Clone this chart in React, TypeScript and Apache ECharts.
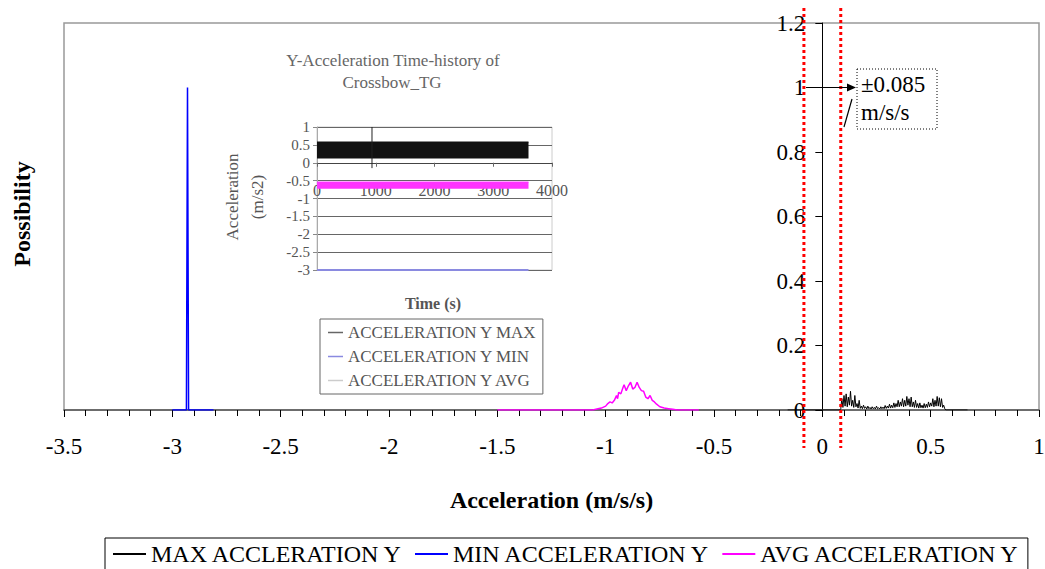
import React, { useEffect, useRef } from "react";
import * as echarts from "echarts";

const FONT = "Liberation Serif";

// Main chart axes
const xMin = -3.5;
const xMax = 1;
const xStep = 0.5;
const yMin = 0;
const yMax = 1.2;
const yStep = 0.2;

// MIN ACCELERATION Y histogram
const minAccX = [-3.0, -2.935, -2.93, -2.925, -2.81];
const minAccY = [0, 0, 1.0, 0, 0];

// AVG ACCELERATION Y histogram
const avgAccX = [
  -1.5, -1.06, -1.04, -1.02, -1.0, -0.99, -0.98, -0.97, -0.96, -0.95, -0.945, -0.94, -0.93, -0.92, -0.915,
  -0.905, -0.895, -0.885, -0.875, -0.865, -0.855, -0.845, -0.835, -0.825, -0.815, -0.805, -0.795, -0.785,
  -0.775, -0.765, -0.75, -0.73, -0.71, -0.69, -0.67, -0.57,
];
const avgAccY = [
  0, 0, 0.003, 0.006, 0.012, 0.02, 0.025, 0.022, 0.03, 0.045, 0.035, 0.055, 0.05, 0.07, 0.078,
  0.06, 0.075, 0.086, 0.065, 0.07, 0.086, 0.07, 0.06, 0.058, 0.04, 0.035, 0.045, 0.03,
  0.025, 0.018, 0.01, 0.006, 0.004, 0.002, 0, 0,
];

// MAX ACCELERATION Y histogram
const maxAccX = [
  -0.16, 0.08,
  0.085, 0.09, 0.095, 0.1, 0.105, 0.11, 0.115, 0.12, 0.125, 0.13,
  0.135, 0.14, 0.145, 0.15, 0.155, 0.16, 0.165, 0.17, 0.175, 0.18,
  0.185, 0.19, 0.195, 0.2, 0.205, 0.21, 0.215, 0.22, 0.225, 0.23,
  0.235, 0.24, 0.245, 0.25, 0.255, 0.26, 0.265, 0.27, 0.275, 0.28,
  0.285, 0.29, 0.295, 0.3, 0.305, 0.31, 0.315, 0.32, 0.325, 0.33,
  0.335, 0.34, 0.345, 0.35, 0.355, 0.36, 0.365, 0.37, 0.375, 0.38,
  0.385, 0.39, 0.395, 0.4, 0.405, 0.41, 0.415, 0.42, 0.425, 0.43,
  0.435, 0.44, 0.445, 0.45, 0.455, 0.46, 0.465, 0.47, 0.475, 0.48,
  0.485, 0.49, 0.495, 0.5, 0.505, 0.51, 0.515, 0.52, 0.525, 0.53,
  0.535, 0.54, 0.545, 0.55, 0.555, 0.56, 0.565, 0.57,
  0.67,
];
const maxAccY = [
  0, 0,
  0.004, 0.035, 0.008, 0.045, 0.012, 0.05, 0.01, 0.04, 0.015, 0.058,
  0.012, 0.03, 0.008, 0.045, 0.01, 0.02, 0.006, 0.03, 0.005, 0.012,
  0.004, 0.015, 0.005, 0.01, 0.003, 0.012, 0.004, 0.008, 0.003, 0.01,
  0.004, 0.008, 0.003, 0.012, 0.004, 0.007, 0.003, 0.01, 0.004, 0.009,
  0.004, 0.014, 0.005, 0.012, 0.006, 0.018, 0.006, 0.015, 0.007, 0.022,
  0.008, 0.02, 0.01, 0.03, 0.01, 0.025, 0.012, 0.035, 0.01, 0.03,
  0.012, 0.042, 0.015, 0.035, 0.01, 0.04, 0.01, 0.025, 0.008, 0.03,
  0.008, 0.02, 0.006, 0.022, 0.007, 0.015, 0.006, 0.02, 0.007, 0.018,
  0.008, 0.025, 0.01, 0.022, 0.012, 0.035, 0.01, 0.03, 0.012, 0.042,
  0.012, 0.038, 0.01, 0.035, 0.008, 0.015, 0.004, 0,
  0,
];

// Threshold annotation
const threshold = 0.085;

// Inset chart (time history)
const insetTimeMin = 0;
const insetTimeMax = 4000;
const insetTimeStep = 1000;
const insetAccMin = -3;
const insetAccMax = 1;
const insetAccStep = 0.5;
const insetTime = [0, 3600];
const insetMaxLow = 0.12;
const insetMaxHigh = [0.58, 0.58];
const insetAvgLow = -0.73;
const insetAvgHigh = [-0.54, -0.54];
const insetMin = [-3, -3];
const insetSpikeTime = [936, 936];
const insetSpikeValue = [-0.15, 1.0];

const zip = (a: number[], b: number[]) => a.map((v, i) => [v, b[i]]);

const legendNames = ["MAX ACCLERATION Y", "MIN ACCELERATION Y", "AVG ACCELERATION Y"];
const insetLegendNames = ["ACCELERATION Y MAX", "ACCELERATION Y MIN", "ACCELERATION Y AVG"];

export default function App() {
  const ref = useRef<HTMLDivElement>(null);
  useEffect(() => {
    document.body.style.margin = "0";
    const chart = echarts.init(ref.current!, null, { renderer: "svg" });
    const option: any = {
      animation: false,
      backgroundColor: "#fff",
      grid: [
        {
          left: 64,
          right: 6,
          top: 23,
          bottom: 159,
          show: true,
          borderColor: "#999",
          borderWidth: 1.5,
          containLabel: false,
          outerBoundsMode: "none",
        },
        {
          left: 317,
          top: 127,
          width: 235,
          height: 143,
          show: true,
          borderColor: "#ccc",
          borderWidth: 1,
          containLabel: false,
          outerBoundsMode: "none",
        },
      ],
      legend: [
        {
          data: legendNames,
          left: 105,
          top: 538,
          orient: "horizontal",
          icon: "rect",
          itemWidth: 33,
          itemHeight: 2,
          itemGap: 12,
          borderColor: "#000",
          borderWidth: 1,
          padding: [4, 8, 8, 8],
          textStyle: { fontFamily: FONT, fontSize: 24, color: "#000" },
          selectedMode: false,
        },
        {
          data: [
            { name: insetLegendNames[0], itemStyle: { color: "#666" } },
            { name: insetLegendNames[1], itemStyle: { color: "#8a8ae0" } },
            { name: insetLegendNames[2], itemStyle: { color: "#ccc" } },
          ],
          left: 320,
          top: 319,
          orient: "vertical",
          icon: "rect",
          itemWidth: 15,
          itemHeight: 1.5,
          itemGap: 7,
          borderColor: "#666",
          borderWidth: 1,
          padding: [5, 6, 5, 8],
          textStyle: { fontFamily: FONT, fontSize: 17, color: "#555" },
          selectedMode: false,
        },
      ],
      xAxis: [
        {
          type: "value",
          gridIndex: 0,
          min: xMin,
          max: xMax,
          interval: xStep,
          axisLine: { show: true, onZero: false, lineStyle: { color: "#555", width: 1.5 } },
          axisTick: { show: true, length: 7, lineStyle: { color: "#000", width: 1 } },
          minorTick: { show: true, splitNumber: 5, length: 6, lineStyle: { color: "#000", width: 1 } },
          splitLine: { show: false },
          axisLabel: { fontFamily: FONT, fontSize: 23, color: "#000", margin: 25 },
          name: "Acceleration (m/s/s)",
          nameLocation: "middle",
          nameGap: 78,
          nameTextStyle: { fontFamily: FONT, fontSize: 24, fontWeight: "bold", color: "#000" },
        },
        {
          type: "value",
          gridIndex: 1,
          min: insetTimeMin,
          max: insetTimeMax,
          interval: insetTimeStep,
          position: "bottom",
          axisLine: { show: true, onZero: false, lineStyle: { color: "#444", width: 1 } },
          axisTick: { show: true, length: 4, lineStyle: { color: "#666" } },
          splitLine: { show: false },
          axisLabel: {
            fontFamily: FONT,
            fontSize: 16,
            color: "#555",
            margin: 20,
            formatter: (v: number) => String(v),
          },
        },
      ],
      yAxis: [
        {
          type: "value",
          gridIndex: 0,
          min: yMin,
          max: yMax,
          interval: yStep,
          position: "left",
          axisLine: { show: true, onZero: false, lineStyle: { color: "#000", width: 1 } },
          axisTick: { show: true, length: 7, lineStyle: { color: "#000" } },
          splitLine: { show: false },
          axisLabel: { fontFamily: FONT, fontSize: 23, color: "#000", margin: 17 },
        },
        {
          type: "value",
          gridIndex: 1,
          min: insetAccMin,
          max: insetAccMax,
          interval: insetAccStep,
          axisLine: { show: true, onZero: false, lineStyle: { color: "#aaa" } },
          axisTick: { show: true, length: 4, lineStyle: { color: "#888" } },
          splitLine: { show: true, lineStyle: { color: "#666", width: 1 } },
          axisLabel: { fontFamily: FONT, fontSize: 15, color: "#555", margin: 7 },
        },
      ],
      series: [
        // inset
        {
          type: "line",
          name: insetLegendNames[0],
          xAxisIndex: 1,
          yAxisIndex: 1,
          data: zip(insetTime, insetMaxHigh),
          symbol: "none",
          lineStyle: { color: "#111", width: 1 },
          itemStyle: { color: "#111" },
          areaStyle: { color: "#111", opacity: 1, origin: insetMaxLow },
          silent: true,
        },
        {
          type: "line",
          name: insetLegendNames[2],
          xAxisIndex: 1,
          yAxisIndex: 1,
          data: zip(insetTime, insetAvgHigh),
          symbol: "none",
          lineStyle: { color: "#ff33ff", width: 1 },
          itemStyle: { color: "#ff33ff" },
          areaStyle: { color: "#ff33ff", opacity: 1, origin: insetAvgLow },
          silent: true,
        },
        {
          type: "line",
          name: insetLegendNames[1],
          xAxisIndex: 1,
          yAxisIndex: 1,
          data: zip(insetTime, insetMin),
          symbol: "none",
          lineStyle: { color: "#8a8ae0", width: 2 },
          itemStyle: { color: "#8a8ae0" },
          silent: true,
        },
        {
          type: "line",
          name: "insetSpike",
          xAxisIndex: 1,
          yAxisIndex: 1,
          data: zip(insetSpikeTime, insetSpikeValue),
          symbol: "none",
          lineStyle: { color: "#222", width: 1 },
          silent: true,
        },
        // main
        {
          type: "line",
          name: legendNames[0],
          xAxisIndex: 0,
          yAxisIndex: 0,
          data: zip(maxAccX, maxAccY),
          symbol: "none",
          lineStyle: { color: "#000", width: 1 },
          itemStyle: { color: "#000" },
        },
        {
          type: "line",
          name: legendNames[1],
          xAxisIndex: 0,
          yAxisIndex: 0,
          data: zip(minAccX, minAccY),
          symbol: "none",
          lineStyle: { color: "#0000ff", width: 1.5 },
          itemStyle: { color: "#0000ff" },
        },
        {
          type: "line",
          name: legendNames[2],
          xAxisIndex: 0,
          yAxisIndex: 0,
          data: zip(avgAccX, avgAccY),
          symbol: "none",
          lineStyle: { color: "#ff00ff", width: 1.5 },
          itemStyle: { color: "#ff00ff" },
        },
      ],
    };
    chart.setOption(option);

    const px = (v: number) => chart.convertToPixel({ xAxisIndex: 0 } as any, v) as number;
    const py = (v: number) => chart.convertToPixel({ yAxisIndex: 0 } as any, v) as number;
    const ipy = (v: number) => chart.convertToPixel({ yAxisIndex: 1 } as any, v) as number;
    const xl = px(-threshold);
    const xr = px(threshold);
    const y1 = py(1);
    const yOffset = -(px(0) - px(xMin));
    const insetXOffset = -(ipy(insetAccMin) - ipy(0));

    const txt = (x: number, y: number, text: string, font: string, fill: string, rotation = 0, align = "center") => ({
      type: "text",
      x,
      y,
      rotation,
      style: {
        text,
        font,
        fill,
        align,
        textAlign: align,
        verticalAlign: "middle",
        textVerticalAlign: "middle",
      },
      z: 130,
    });

    chart.setOption({
      yAxis: [{ offset: yOffset }, {}],
      xAxis: [{}, { offset: insetXOffset }],
      graphic: [
        txt(22, 214, "Possibility", `bold 24px ${FONT}`, "#000", Math.PI / 2),
        txt(393, 60, "Y-Acceleration Time-history of", `17px ${FONT}`, "#666"),
        txt(392, 82, "Crossbow_TG", `17px ${FONT}`, "#666"),
        txt(232, 197, "Acceleration", `17px ${FONT}`, "#555", Math.PI / 2),
        txt(257, 197, "(m/s2)", `17px ${FONT}`, "#555", Math.PI / 2),
        txt(433, 303, "Time (s)", `bold 16px ${FONT}`, "#555"),
        {
          type: "line",
          shape: { x1: xl, y1: 8, x2: xl, y2: 448 },
          style: { stroke: "#ff0000", lineWidth: 3, lineDash: [3, 3] },
          z: 110,
        },
        {
          type: "line",
          shape: { x1: xr, y1: 8, x2: xr, y2: 448 },
          style: { stroke: "#ff0000", lineWidth: 3, lineDash: [3, 3] },
          z: 110,
        },
        {
          type: "line",
          shape: { x1: 806, y1: y1, x2: 850, y2: y1 },
          style: { stroke: "#000", lineWidth: 1.2 },
          z: 120,
        },
        {
          type: "polygon",
          shape: { points: [[856, y1], [847, y1 - 4], [847, y1 + 4]] },
          style: { fill: "#000" },
          z: 120,
        },
        {
          type: "line",
          shape: { x1: 844, y1: 127, x2: 852, y2: 99 },
          style: { stroke: "#000", lineWidth: 1.2 },
          z: 120,
        },
        {
          type: "rect",
          shape: { x: 857, y: 69, width: 80, height: 60 },
          style: { fill: "#fff", stroke: "#000", lineWidth: 1, lineDash: [1, 2] },
          z: 115,
        },
        txt(861, 84, "±0.085", `23px ${FONT}`, "#000", 0, "left"),
        txt(861, 112, "m/s/s", `23px ${FONT}`, "#000", 0, "left"),
      ],
    });

    return () => chart.dispose();
  }, []);
  return <div ref={ref} style={{ width: 1045, height: 569 }} />;
}
